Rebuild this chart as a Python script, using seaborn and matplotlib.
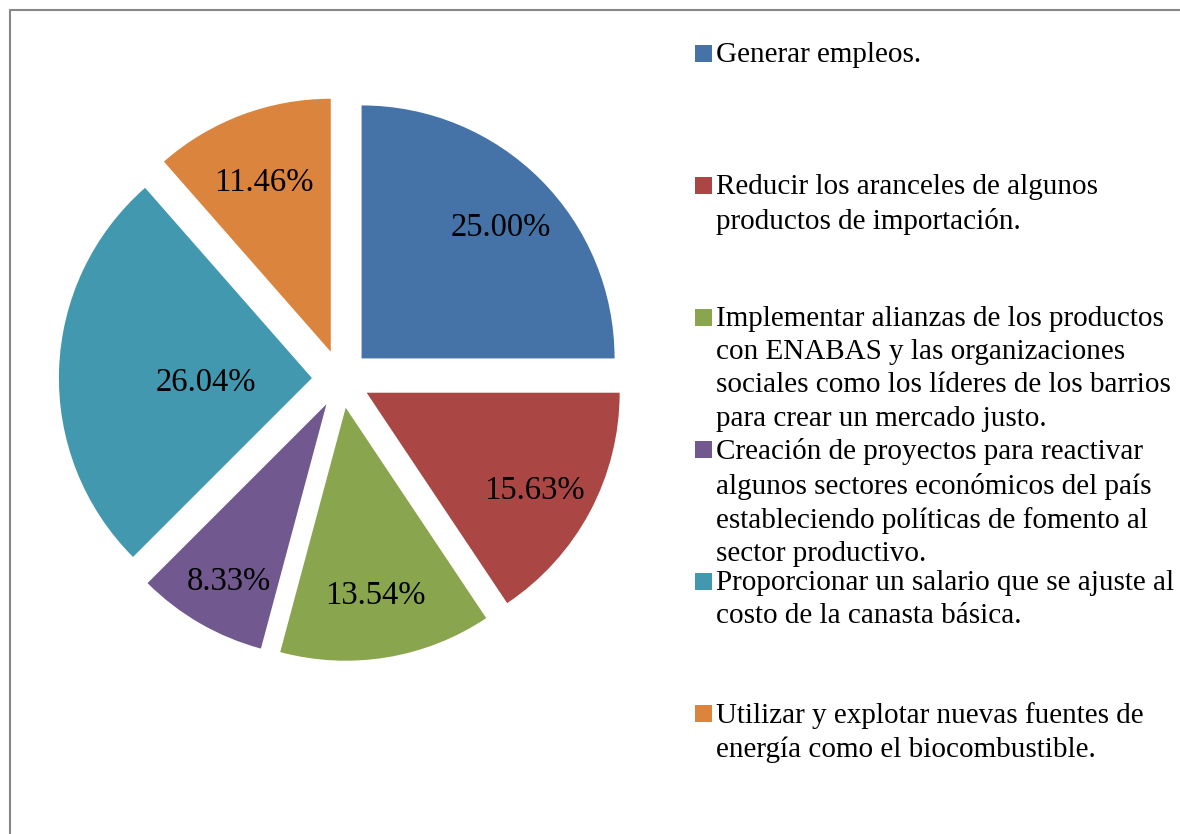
import numpy as np
import matplotlib
matplotlib.use("Agg")
import matplotlib.pyplot as plt
import seaborn as sns
from matplotlib.patches import Rectangle
from matplotlib.lines import Line2D

# ---- data ----
categories = [
    "Generar empleos.",
    "Reducir los aranceles de algunos\nproductos de importación.",
    "Implementar alianzas de los productos\ncon ENABAS y las organizaciones\nsociales como los líderes de los barrios\npara crear un mercado justo.",
    "Creación de proyectos para reactivar\nalgunos sectores económicos del país\nestableciendo políticas de fomento al\nsector productivo.",
    "Proporcionar un salario que se ajuste al\ncosto de la canasta básica.",
    "Utilizar y explotar nuevas fuentes de\nenergía como el biocombustible.",
]
percentages = [25.00, 15.63, 13.54, 8.33, 26.04, 11.46]
colors = ["#4572A7", "#AA4643", "#89A54E", "#71588F", "#4198AF", "#DB843D"]
label_dist = [0.78, 0.75, 0.72, 0.77, 0.42, 0.75]

sns.set_theme(style="white")
plt.rcParams["font.family"] = ["Liberation Serif", "DejaVu Serif"]

W, H = 1180, 834
fig = plt.figure(figsize=(W / 100, H / 100), dpi=100)
fig.patch.set_facecolor("white")

R = 253.0
cx, cy = 341.0, 379.0
L = 1.25
S = 2 * L * R
ax = fig.add_axes([(cx - S / 2) / W, (H - cy - S / 2) / H, S / W, S / H])
palette = sns.color_palette(colors)
wedges, texts, autotexts = ax.pie(
    percentages, colors=palette, startangle=90, counterclock=False,
    explode=[0.115] * len(percentages), autopct="%.2f%%", pctdistance=0.75,
    textprops=dict(fontsize=23.5, color="black"),
    wedgeprops=dict(linewidth=0),
)
ax.set_xlim(-L, L)
ax.set_ylim(-L, L)
ax.set_aspect("equal")

for w, t, d in zip(wedges, autotexts, label_dist):
    ang = np.deg2rad((w.theta1 + w.theta2) / 2)
    x0, y0 = w.center
    t.set_position((x0 + d * w.r * np.cos(ang), y0 + d * w.r * np.sin(ang) - 0.034))
    t.set_va("center")
    t.set_ha("center")

# ---- legend (entries on a regular grid, first lines aligned) ----
fs_leg = 21
fpx = fs_leg * 100 / 72
base0, step = 62, 132
for i, (lab, col) in enumerate(zip(categories, palette)):
    base = base0 + step * i
    fig.text(716 / W, 1 - (base - 0.683 * fpx) / H, lab, fontsize=fs_leg,
             va="top", ha="left", linespacing=1.36, color="black")
    fig.patches.append(Rectangle((695 / W, 1 - base / H), 17 / W, 17 / H,
                                 transform=fig.transFigure, facecolor=col,
                                 edgecolor="none"))

# ---- frame border (left and top visible) ----
bc = "#878787"
fig.lines.append(Line2D([9.5 / W, 9.5 / W], [0, 1 - 10 / H], transform=fig.transFigure,
                        color=bc, lw=1.5))
fig.lines.append(Line2D([9.5 / W, 1], [1 - 10 / H, 1 - 10 / H], transform=fig.transFigure,
                        color=bc, lw=1.5))

fig.savefig("out.png", dpi=100, facecolor="white")
